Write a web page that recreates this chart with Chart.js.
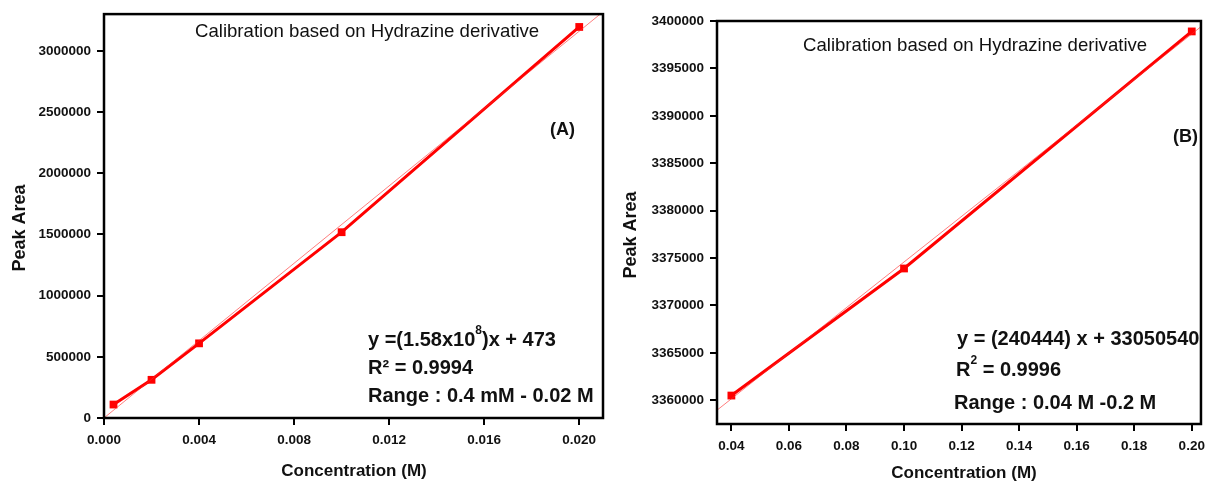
<!DOCTYPE html>
<html>
<head>
<meta charset="utf-8">
<script src="https://cdn.jsdelivr.net/npm/chart.js@4.4.1/dist/chart.umd.min.js"></script>
<style>
  body { margin: 0; background: #fff; }
  #wrap { position: relative; width: 1212px; height: 484px; }
  canvas { position: absolute; top: 0; }
  #chartA { left: 0; }
  #chartB { left: 610px; }
</style>
</head>
<body>
<div id="wrap">
  <canvas id="chartA" width="610" height="484"></canvas>
  <canvas id="chartB" width="602" height="484"></canvas>
</div>
<script>
// (A) low range calibration
var concA = [0.0004, 0.002, 0.004, 0.010, 0.020];
var areaA = [110000, 312000, 610000, 1518000, 3195000];
var fitA = [{x: 0, y: 473}, {x: 0.021, y: 3318473}];
var xTicksA = [0, 0.004, 0.008, 0.012, 0.016, 0.020];
var yTicksA = [0, 500000, 1000000, 1500000, 2000000, 2500000, 3000000];

// (B) high range calibration
var concB = [0.04, 0.10, 0.20];
var areaB = [3360500, 3373900, 3398900];
var fitB = [{x: 0.035, y: 3358956}, {x: 0.2032, y: 3399400}];
var xTicksB = [0.04, 0.06, 0.08, 0.10, 0.12, 0.14, 0.16, 0.18, 0.20];
var yTicksB = [3360000, 3365000, 3370000, 3375000, 3380000, 3385000, 3390000, 3395000, 3400000];

var FONT = '"Liberation Sans", Arial, sans-serif';
var INK = '#111';

function drawParts(ctx, x, y, parts) {
  // parts: [text, font, dy]
  parts.forEach(function(p) {
    ctx.font = p[1];
    ctx.fillText(p[0], x, y + (p[2] || 0));
    x += ctx.measureText(p[0]).width;
  });
}

function makeChart(id, cfg) {
  var decorations = {
    id: 'decorations',
    afterDraw: function(chart) {
      var ctx = chart.ctx, ca = chart.chartArea;
      ctx.save();
      // frame around the plot area
      ctx.strokeStyle = '#000';
      ctx.lineWidth = 2.5;
      ctx.strokeRect(ca.left, ca.top, ca.right - ca.left, ca.bottom - ca.top);

      ctx.fillStyle = INK;
      ctx.textBaseline = 'middle';
      ctx.textAlign = 'left';
      ctx.font = '18.6px ' + FONT;
      ctx.fillText('Calibration based on Hydrazine derivative', cfg.title[0], cfg.title[1]);
      ctx.font = 'bold 18px ' + FONT;
      ctx.fillText(cfg.panel, cfg.panelPos[0], cfg.panelPos[1]);

      cfg.notes.forEach(function(n) { drawParts(ctx, n.x, n.y, n.parts); });

      // axis titles
      ctx.textAlign = 'center';
      ctx.font = 'bold 17px ' + FONT;
      ctx.fillText('Concentration (M)', cfg.xTitle[0], cfg.xTitle[1]);
      ctx.translate(cfg.yTitle[0], cfg.yTitle[1]);
      ctx.rotate(-Math.PI / 2);
      ctx.font = 'bold 18px ' + FONT;
      ctx.fillText('Peak Area', 0, 0);
      ctx.restore();
    }
  };

  var tickFont = {family: FONT, size: 13.5, weight: 'bold'};
  var gridOpts = {display: true, drawOnChartArea: false, drawTicks: true,
                  tickLength: 7, tickColor: '#000', lineWidth: 2};

  return new Chart(document.getElementById(id), {
    type: 'line',
    data: {
      datasets: [{
        data: cfg.fit,
        borderColor: 'rgba(255,40,40,0.6)',
        borderWidth: 1,
        pointRadius: 0,
        fill: false
      }, {
        data: cfg.x.map(function(c, i) { return {x: c, y: cfg.y[i]}; }),
        borderColor: '#ff0000',
        borderWidth: 3,
        pointStyle: 'rect',
        pointRadius: 5.5,
        pointBackgroundColor: '#ff0000',
        pointBorderWidth: 0,
        fill: false,
        clip: false
      }]
    },
    options: {
      responsive: false,
      animation: false,
      layout: {padding: {top: cfg.pad[0], right: cfg.pad[1], left: 0, bottom: 0}},
      plugins: {legend: {display: false}, tooltip: {enabled: false}},
      scales: {
        x: {
          type: 'linear',
          min: cfg.xRange[0], max: cfg.xRange[1],
          afterBuildTicks: function(s) { s.ticks = cfg.xTicks.map(function(v) { return {value: v}; }); },
          afterFit: function(s) { s.height = cfg.xH; },
          grid: gridOpts,
          border: {display: false},
          ticks: {font: tickFont, color: INK, padding: 7, autoSkip: false, maxRotation: 0,
                  callback: function(v) { return v.toFixed(cfg.xDec); }}
        },
        y: {
          type: 'linear',
          min: cfg.yRange[0], max: cfg.yRange[1],
          afterBuildTicks: function(s) { s.ticks = cfg.yTicks.map(function(v) { return {value: v}; }); },
          afterFit: function(s) { s.width = cfg.yW; },
          grid: gridOpts,
          border: {display: false},
          ticks: {font: tickFont, color: INK, padding: 6, autoSkip: false,
                  callback: function(v) { return String(v); }}
        }
      }
    },
    plugins: [decorations]
  });
}

var EQ = 'bold 20px ' + FONT;
var SUP = 'bold 12px ' + FONT;

makeChart('chartA', {
  x: concA, y: areaA, fit: fitA,
  xTicks: xTicksA, yTicks: yTicksA, xDec: 3,
  xRange: [0, 0.021], yRange: [0, 3300000],
  pad: [13, 7], yW: 104, xH: 66,
  title: [195, 32], panel: '(A)', panelPos: [550, 130],
  xTitle: [354, 471], yTitle: [20, 228],
  notes: [
    {x: 368, y: 340, parts: [['y =(1.58x10', EQ], ['8', SUP, -9], [')x + 473', EQ]]},
    {x: 368, y: 368, parts: [['R\u00b2 = 0.9994', EQ]]},
    {x: 368, y: 396, parts: [['Range : 0.4 mM - 0.02 M', EQ]]}
  ]
});

makeChart('chartB', {
  x: concB, y: areaB, fit: fitB,
  xTicks: xTicksB, yTicks: yTicksB, xDec: 2,
  xRange: [0.035, 0.2032], yRange: [3357500, 3400000],
  pad: [21, 5], yW: 107, xH: 60,
  title: [193, 46], panel: '(B)', panelPos: [563, 137],
  xTitle: [354, 473], yTitle: [21, 235],
  notes: [
    {x: 347, y: 339, parts: [['y = (240444) x + 33050540', EQ]]},
    {x: 346, y: 370, parts: [['R', EQ], ['2', SUP, -9], [' = 0.9996', EQ]]},
    {x: 344, y: 403, parts: [['Range : 0.04 M -0.2 M', EQ]]}
  ]
});
</script>
</body>
</html>
